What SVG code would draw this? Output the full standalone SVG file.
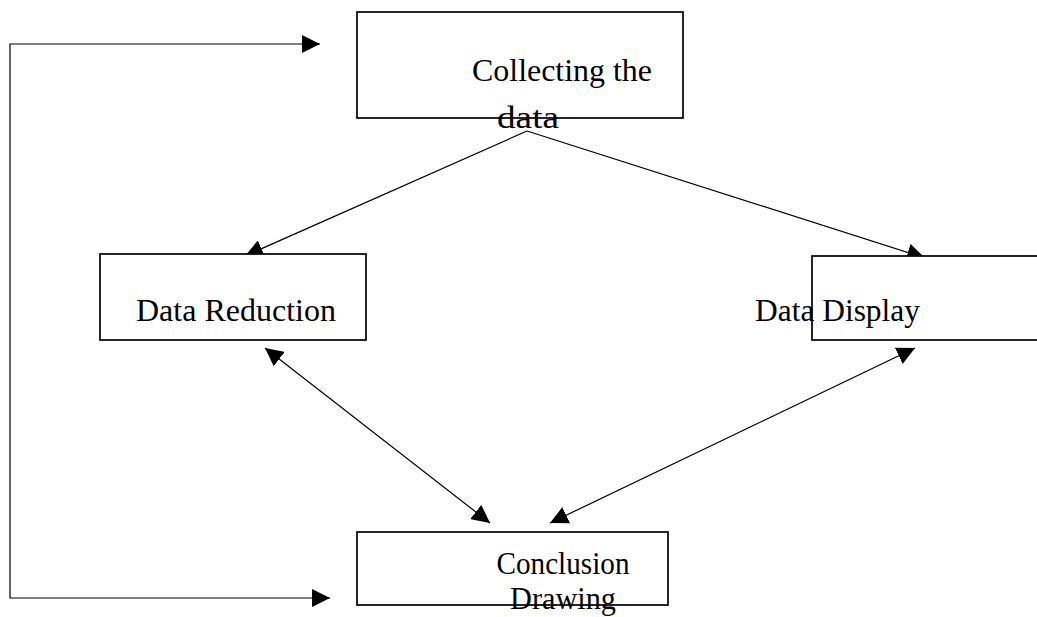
<svg xmlns="http://www.w3.org/2000/svg" width="1037" height="617" viewBox="0 0 1037 617">
<style>
.box{fill:#fff;stroke:#000;stroke-width:1.7}
.lbl{font-family:"Liberation Serif","Times New Roman",serif;font-size:32px;fill:#000}
.ln{fill:none;stroke:#000;stroke-width:1.2}
</style>
<defs>
<marker id="ah" viewBox="0 0 10 10" refX="10" refY="5" markerWidth="18" markerHeight="18" markerUnits="userSpaceOnUse" orient="auto-start-reverse">
<path d="M0,0 L10,5 L0,10 z" fill="#000"/>
</marker>
</defs>
<g id="connectors">
<polyline class="ln" points="320,44 10,44 10,598 330,598" marker-start="url(#ah)" marker-end="url(#ah)"/>
<line class="ln" x1="527" y1="131" x2="245" y2="256" marker-end="url(#ah)"/>
<line class="ln" x1="527" y1="131" x2="925" y2="258" marker-end="url(#ah)"/>
<line class="ln" x1="265" y1="348" x2="490" y2="523" marker-start="url(#ah)" marker-end="url(#ah)"/>
<line class="ln" x1="915" y1="348" x2="550" y2="523" marker-start="url(#ah)" marker-end="url(#ah)"/>
</g>
<g id="collecting">
<rect class="box" x="357" y="12" width="326" height="106"/>
<text class="lbl" x="472" y="81" textLength="180" lengthAdjust="spacingAndGlyphs">Collecting the</text>
<text class="lbl" x="528" y="128" text-anchor="middle" textLength="62" lengthAdjust="spacingAndGlyphs">data</text>
</g>
<g id="reduction">
<rect class="box" x="100" y="254" width="266" height="86"/>
<text class="lbl" x="136" y="321" textLength="200" lengthAdjust="spacingAndGlyphs">Data Reduction</text>
</g>
<g id="display">
<rect class="box" x="812" y="256" width="240" height="84"/>
<text class="lbl" x="755" y="321" textLength="165" lengthAdjust="spacingAndGlyphs">Data Display</text>
</g>
<g id="conclusion">
<rect class="box" x="357" y="532" width="311" height="73"/>
<text class="lbl" x="563" y="574" text-anchor="middle" textLength="133" lengthAdjust="spacingAndGlyphs">Conclusion</text>
<text class="lbl" x="563" y="609" text-anchor="middle" textLength="106" lengthAdjust="spacingAndGlyphs">Drawing</text>
</g>
</svg>
